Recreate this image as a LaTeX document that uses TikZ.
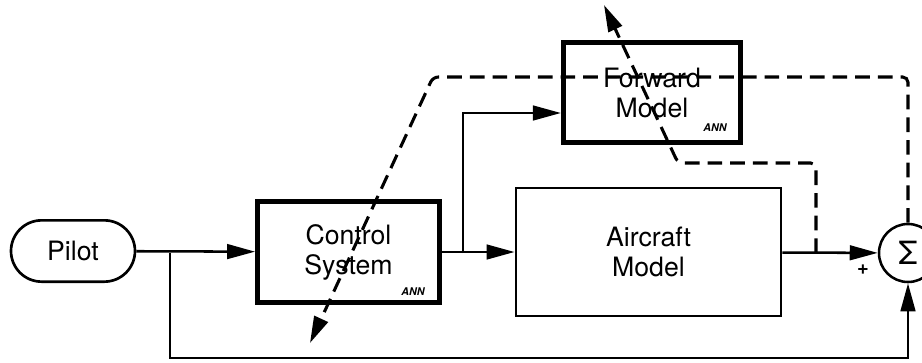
\documentclass[tikz,border=0pt]{standalone}
\usepackage{fontspec}
\setmainfont{TeX Gyre Heros}
\usetikzlibrary{arrows.meta,shapes.misc}

\begin{document}
\begin{tikzpicture}[x=0.75pt, y=-0.75pt,
    every node/.style={font=\fontsize{20}{22.5}\selectfont, align=center, inner sep=0pt},
    blk/.style={draw, line width=1.9pt},
    annblk/.style={draw, line width=3.6pt},
    ann/.style={font=\fontsize{8}{8}\selectfont\bfseries\itshape},
    sig/.style={line width=1.9pt, -{Triangle[length=21pt,width=11pt]}},
    err/.style={line width=2.3pt, dash pattern=on 11pt off 6pt, rounded corners=4pt,
      -{Triangle[length=20pt,width=11pt]}}]
    \useasboundingbox (0,0) rectangle (922,362);
    \node[draw, rounded rectangle, line width=2pt, minimum width=93pt, minimum height=46pt]
      (pilot) at (73,251) {Pilot};
    \node[annblk, minimum width=136.5pt, minimum height=76pt] (ctrl) at (348.5,252) {Control\\System};
    \node[annblk, minimum width=133pt, minimum height=75pt] (fwd) at (652,92.5) {Forward\\Model};
    \node[blk, minimum width=199pt, minimum height=96pt] (plant) at (648.5,252) {Aircraft\\Model};
    \node[draw, circle, line width=1.9pt, minimum size=43.5pt, font=\fontsize{24}{24}\selectfont]
      (sum) at (908,253) {Σ};
    \node[ann] (ann1) at (413,292) {ANN};
    \node[ann] (ann2) at (715,128) {ANN};
    \node[font=\fontsize{15}{15}\selectfont\bfseries] (plus) at (863,270) {+};
    \coordinate (b1) at (170,253);
    \coordinate (fb) at (170,358);
    \coordinate (b2) at (463,253);
    \coordinate (fwdin) at (fwd.west |- 0,113);
    \coordinate (tap) at (816,253);
    \coordinate (e1) at (433,77);
    \coordinate (e1tip) at (310,343);
    \coordinate (e2) at (678,163);
    \coordinate (e2tip) at (604,5);
    \draw[sig] (pilot) -- (ctrl);
    \draw[sig] (ctrl) -- (plant);
    \draw[sig] (b2) |- (fwdin);
    \draw[sig] (plant) -- (sum);
    \draw[sig] (b1) -- (fb) -| (sum.south);
    \draw[err] (sum.north) |- (e1) -- (e1tip);
    \draw[err] (tap) |- (e2) -- (e2tip);
\end{tikzpicture}
\end{document}
